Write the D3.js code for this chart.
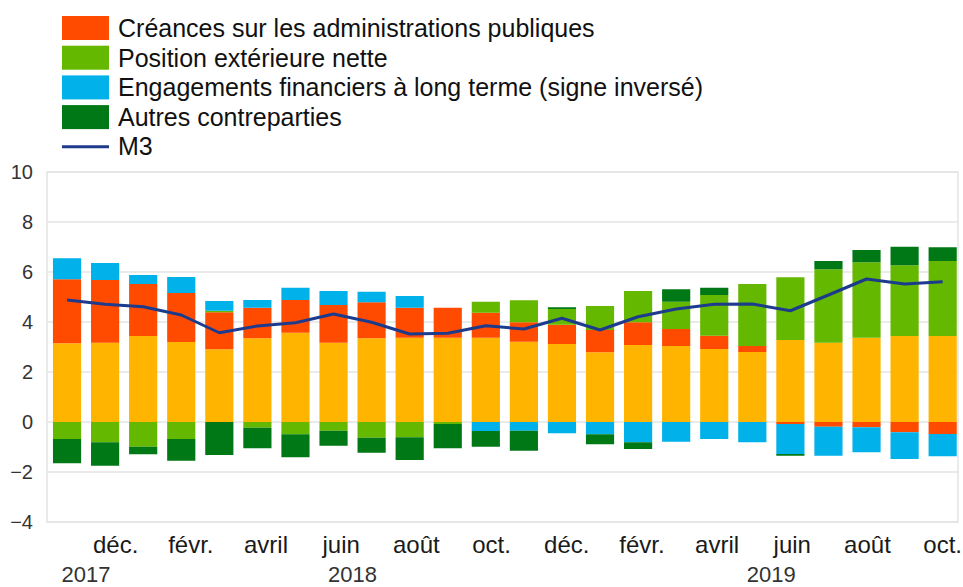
<!DOCTYPE html>
<html>
<head>
<meta charset="utf-8">
<script src="https://cdn.jsdelivr.net/npm/d3@7"></script>
<style>
  body { margin: 0; background: #fff; }
  text { font-family: "Liberation Sans", Arial, sans-serif; }
</style>
</head>
<body>
<div id="chart"></div>
<script>
// months, nov. 2017 -> oct. 2019
const months = ["nov.", "déc.", "janv.", "févr.", "mars", "avril", "mai", "juin", "juil.", "août", "sept.", "oct.",
  "nov.", "déc.", "janv.", "févr.", "mars", "avril", "mai", "juin", "juil.", "août", "sept.", "oct."];
const years = [2017, 2017, 2018, 2018, 2018, 2018, 2018, 2018, 2018, 2018, 2018, 2018,
  2018, 2018, 2019, 2019, 2019, 2019, 2019, 2019, 2019, 2019, 2019, 2019];

// contributions (points de pourcentage)
const pretsPrives = [3.15, 3.17, 3.44, 3.20, 2.91, 3.35, 3.57, 3.17, 3.35, 3.37, 3.37, 3.37,
  3.21, 3.12, 2.79, 3.08, 3.04, 2.92, 2.80, 3.28, 3.17, 3.37, 3.44, 3.44];
const creancesAP = [2.56, 2.51, 2.08, 1.96, 1.48, 1.22, 1.31, 1.51, 1.44, 1.20, 1.20, 1.00,
  0.78, 0.77, 0.89, 0.91, 0.68, 0.53, 0.24, -0.08, -0.19, -0.21, -0.41, -0.48];
const positionExt = [-0.68, -0.81, -0.99, -0.68, 0.06, -0.23, -0.49, -0.35, -0.63, -0.61, -0.08, 0.44,
  0.88, 0.63, 0.96, 1.25, 1.09, 1.63, 2.48, 2.51, 2.94, 3.02, 2.83, 3.00];
const engagementsLT = [0.84, 0.68, 0.36, 0.64, 0.39, 0.31, 0.49, 0.56, 0.42, 0.47, 0, -0.36,
  -0.35, -0.45, -0.49, -0.81, -0.79, -0.68, -0.81, -1.20, -1.16, -1.00, -1.07, -0.89];
const autres = [-0.97, -0.94, -0.30, -0.87, -1.32, -0.82, -0.92, -0.60, -0.60, -0.91, -0.97, -0.63,
  -0.80, 0.07, -0.40, -0.27, 0.50, 0.29, 0, -0.07, 0.33, 0.49, 0.74, 0.55];
const m3 = [4.88, 4.71, 4.61, 4.28, 3.57, 3.84, 3.97, 4.32, 3.99, 3.52, 3.55, 3.85,
  3.72, 4.15, 3.68, 4.21, 4.52, 4.71, 4.72, 4.45, 5.08, 5.72, 5.52, 5.61];

const yTicks = [-4, -2, 0, 2, 4, 6, 8, 10];

const series = [
  { key: "prets", label: null, color: "#ffb400", values: pretsPrives },
  { key: "creances", label: "Créances sur les administrations publiques", color: "#ff4b00", values: creancesAP },
  { key: "position", label: "Position extérieure nette", color: "#65b800", values: positionExt },
  { key: "engagements", label: "Engagements financiers à long terme (signe inversé)", color: "#00b1ea", values: engagementsLT },
  { key: "autres", label: "Autres contreparties", color: "#007816", values: autres }
];

const width = 963;
const height = 587;
const plot = { left: 47, right: 958, top: 172, bottom: 522 };

const svg = d3.select("#chart").append("svg")
  .attr("width", width)
  .attr("height", height);

const rows = months.map((m, i) => {
  const row = { i: i };
  series.forEach(s => { row[s.key] = s.values[i]; });
  return row;
});

const stacked = d3.stack()
  .keys(series.map(s => s.key))
  .offset(d3.stackOffsetDiverging)(rows);

const xScale = d3.scaleBand()
  .domain(d3.range(months.length))
  .range([48, 961.7])
  .paddingInner(0.26)
  .paddingOuter(0.13);

const yScale = d3.scaleLinear()
  .domain([-4, 10])
  .range([plot.bottom, plot.top]);

// grid
svg.append("g")
  .selectAll("line")
  .data(yTicks)
  .enter().append("line")
  .attr("x1", plot.left)
  .attr("x2", plot.right)
  .attr("y1", d => yScale(d))
  .attr("y2", d => yScale(d))
  .style("stroke", "#e4e4e4")
  .style("stroke-width", 1.5);

svg.append("rect")
  .attr("x", plot.left)
  .attr("y", plot.top)
  .attr("width", plot.right - plot.left)
  .attr("height", plot.bottom - plot.top)
  .style("fill", "none")
  .style("stroke", "#e4e4e4")
  .style("stroke-width", 1.5);

// y axis labels
const yAxis = svg.append("g")
  .attr("transform", `translate(${plot.left - 4},0)`)
  .call(d3.axisLeft(yScale).tickValues(yTicks).tickSize(0).tickPadding(10));
yAxis.select(".domain").remove();
yAxis.selectAll("text")
  .style("font-size", "20px")
  .style("fill", "#333")
  .style("font-family", "Liberation Sans, Arial, sans-serif");

// bars
svg.append("g")
  .selectAll("g")
  .data(stacked)
  .enter().append("g")
  .style("fill", (d, i) => series[i].color)
  .selectAll("rect")
  .data(d => d)
  .enter().append("rect")
  .attr("x", d => xScale(d.data.i))
  .attr("width", xScale.bandwidth())
  .attr("y", d => yScale(Math.max(d[0], d[1])))
  .attr("height", d => Math.abs(yScale(d[0]) - yScale(d[1])));

// M3 line
const line = d3.line()
  .x((d, i) => xScale(i) + xScale.bandwidth() / 2)
  .y(d => yScale(d));

svg.append("path")
  .datum(m3)
  .attr("d", line)
  .style("fill", "none")
  .style("stroke", "#1c3b8d")
  .style("stroke-width", 3)
  .style("stroke-linejoin", "round");

// x axis: month labels every two months, drifting slightly right at the start
svg.append("g")
  .selectAll("text")
  .data(months.map((m, i) => ({ m: m, i: i })).filter(d => d.i % 2 === 1))
  .enter().append("text")
  .attr("x", d => xScale(d.i) + xScale.bandwidth() / 2 + 11 * (1 - d.i / (months.length - 1)))
  .attr("y", 553)
  .attr("text-anchor", "middle")
  .style("font-size", "24px")
  .style("fill", "#1a1a1a")
  .text(d => d.m);

// years centred under their months
const yearGroups = d3.groups(months.map((m, i) => ({ y: years[i], i: i })), d => d.y);
svg.append("g")
  .selectAll("text")
  .data(yearGroups)
  .enter().append("text")
  .attr("x", d => d3.mean(d[1], e => xScale(e.i) + xScale.bandwidth() / 2))
  .attr("y", 582)
  .attr("text-anchor", "middle")
  .style("font-size", "22px")
  .style("fill", "#333")
  .text(d => d[0]);

// legend
const legendOrder = series.filter(s => s.label);
const legend = svg.append("g")
  .attr("transform", "translate(62,0)");

legendOrder.forEach((s, i) => {
  const cy = 28 + i * 29.7;
  legend.append("rect")
    .attr("x", 0)
    .attr("y", cy - 12)
    .attr("width", 47)
    .attr("height", 24)
    .style("fill", s.color);
  legend.append("text")
    .attr("x", 56)
    .attr("y", cy + 9)
    .style("font-size", "25px")
    .style("fill", "#111")
    .text(s.label);
});

const lineY = 28 + 4 * 29.7;
legend.append("line")
  .attr("x1", 0)
  .attr("x2", 47)
  .attr("y1", lineY)
  .attr("y2", lineY)
  .style("stroke", "#1c3b8d")
  .style("stroke-width", 3);
legend.append("text")
  .attr("x", 56)
  .attr("y", lineY + 8)
  .style("font-size", "25px")
  .style("fill", "#111")
  .text("M3");
</script>
</body>
</html>
